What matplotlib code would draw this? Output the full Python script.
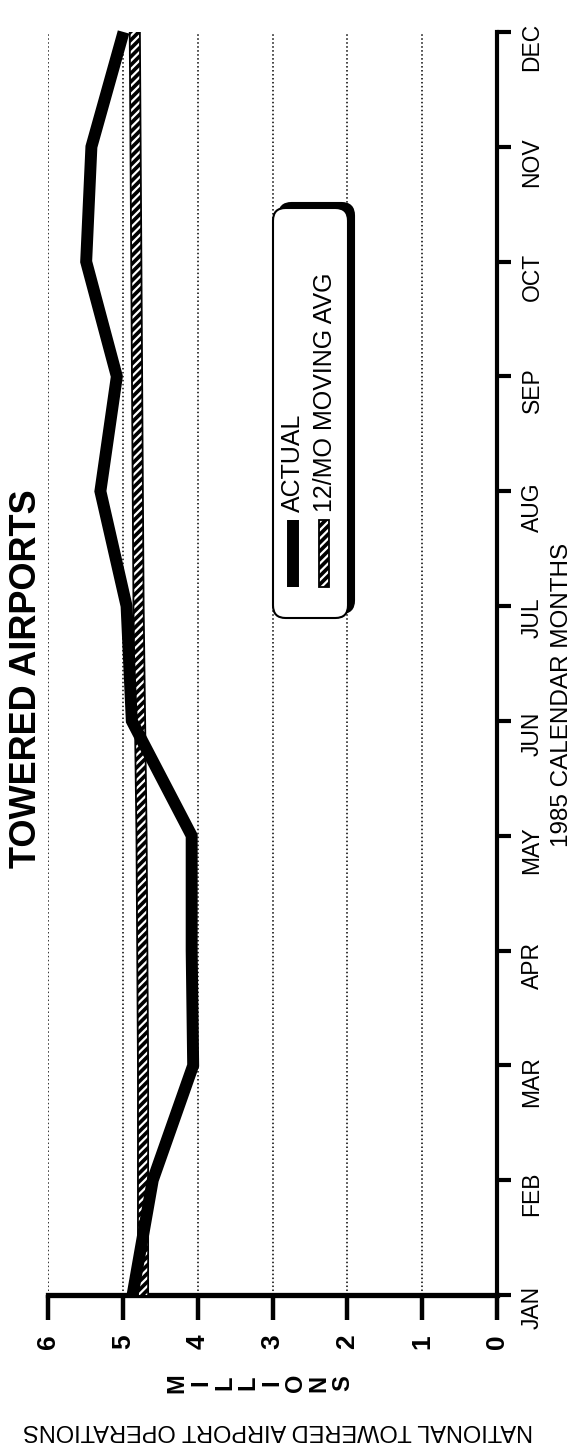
import matplotlib
matplotlib.use("Agg")
import matplotlib.pyplot as plt
import numpy as np
from matplotlib import font_manager
from matplotlib.patches import FancyBboxPatch, Rectangle
from matplotlib.lines import Line2D

plt.rcParams['font.family'] = ['Liberation Sans', 'DejaVu Sans']
plt.rcParams['hatch.linewidth'] = 1.6

# data (millions of operations)
months = ['JAN', 'FEB', 'MAR', 'APR', 'MAY', 'JUN',
          'JUL', 'AUG', 'SEP', 'OCT', 'NOV', 'DEC']
actual = [4.87, 4.60, 4.06, 4.08, 4.08, 4.88,
          4.95, 5.30, 5.08, 5.49, 5.42, 4.99]
moving_avg = [4.73, 4.73, 4.73, 4.74, 4.75, 4.77,
              4.79, 4.80, 4.81, 4.82, 4.83, 4.84]
value_ticks = [0, 1, 2, 3, 4, 5, 6]

W, H = 574, 1448


def fx(x):
    return x / W


def fy(y):
    return 1 - y / H


try:
    font_manager.findfont('Liberation Sans Narrow', fallback_to_default=False)
    narrow, narrow_size = 'Liberation Sans Narrow', 21
except ValueError:
    narrow, narrow_size = 'Liberation Sans', 17

fig = plt.figure(figsize=(W / 100, H / 100), dpi=100)
ax = fig.add_axes([fx(48), fy(1295), fx(497) - fx(48), fy(32) - fy(1295)])

pos = np.arange(len(months))

# actual: heavy black line
ax.plot(actual, pos, color='black', lw=8.6, solid_joinstyle='miter',
        solid_capstyle='butt', clip_on=False, zorder=4)

# 12 month moving average: hatched band
ma = np.array(moving_avg)
half = 0.068
ax.fill_betweenx(pos, ma - half, ma + half, facecolor='black',
                 edgecolor='white', hatch='////', linewidth=0, zorder=3)
ax.plot(ma - half, pos, color='black', lw=1.3, zorder=3)
ax.plot(ma + half, pos, color='black', lw=1.3, zorder=3)

ax.set_xlim(6, 0)
ax.set_ylim(0, len(months) - 1)

for s in ['left', 'top']:
    ax.spines[s].set_visible(False)
ax.spines['bottom'].set_linewidth(3.8)
ax.spines['right'].set_linewidth(3.0)

ax.set_xticks(value_ticks)
ax.set_xticklabels([str(v) for v in value_ticks], rotation=90,
                   fontsize=19, fontweight='bold')
ax.tick_params(axis='x', direction='out', length=18, width=3.2, pad=10)

ax.yaxis.tick_right()
ax.set_yticks(pos)
ax.set_yticklabels(months, rotation=90, fontsize=16.5)
ax.tick_params(axis='y', direction='out', length=10, width=3.0, pad=7,
               left=False, right=True)

ax.grid(axis='x', color='black', linestyle=(0, (1, 1.6)), linewidth=1.1)
ax.set_axisbelow(True)

# titles and axis labels (rotated page)
fig.text(fx(27), fy(679), 'TOWERED AIRPORTS', rotation=90, fontsize=26,
         fontweight='bold', ha='center', va='center')
fig.text(fx(562), fy(695), '1985 CALENDAR MONTHS', rotation=90,
         fontsize=17.5, ha='center', va='center')
fig.text(fx(278), fy(1430), 'NATIONAL TOWERED AIRPORT OPERATIONS',
         rotation=180, fontsize=narrow_size, family=narrow,
         ha='center', va='center')
for letter, x in zip('MILLIONS', np.linspace(177, 343, 8)):
    fig.text(fx(x), fy(1383), letter, rotation=90, fontsize=17,
             fontweight='bold', ha='center', va='center')

# legend drawn by hand so its text can run up the page
shadow = FancyBboxPatch((fx(279), fy(613)), fx(348) - fx(273), fy(208) - fy(618),
                        boxstyle='round,pad=0,rounding_size=0.022',
                        transform=fig.transFigure, facecolor='black',
                        edgecolor='black', lw=1.5, zorder=5,
                        mutation_aspect=W / H)
box = FancyBboxPatch((fx(273), fy(618)), fx(348) - fx(273), fy(208) - fy(618),
                     boxstyle='round,pad=0,rounding_size=0.022',
                     transform=fig.transFigure, facecolor='white',
                     edgecolor='black', lw=1.5, zorder=6,
                     mutation_aspect=W / H)
fig.patches.extend([shadow, box])

fig.add_artist(Line2D([fx(293), fx(293)], [fy(587), fy(520)], color='black',
                      lw=8.6, solid_capstyle='butt', zorder=7))
hatch_sym = Rectangle((fx(319), fy(587)), fx(10), fy(520) - fy(587),
                      transform=fig.transFigure, facecolor='black',
                      edgecolor='white', hatch='////', lw=0, zorder=7)
hatch_edge = Rectangle((fx(319), fy(587)), fx(10), fy(520) - fy(587),
                       transform=fig.transFigure, facecolor='none',
                       edgecolor='black', lw=1.3, zorder=8)
fig.add_artist(hatch_sym)
fig.add_artist(hatch_edge)

fig.text(fx(293), fy(512), 'ACTUAL', rotation=90, fontsize=18,
         ha='center', va='bottom', zorder=9)
fig.text(fx(325), fy(512), '12/MO MOVING AVG', rotation=90, fontsize=18,
         ha='center', va='bottom', zorder=9)

fig.savefig('out.png', dpi=100, facecolor='white')
